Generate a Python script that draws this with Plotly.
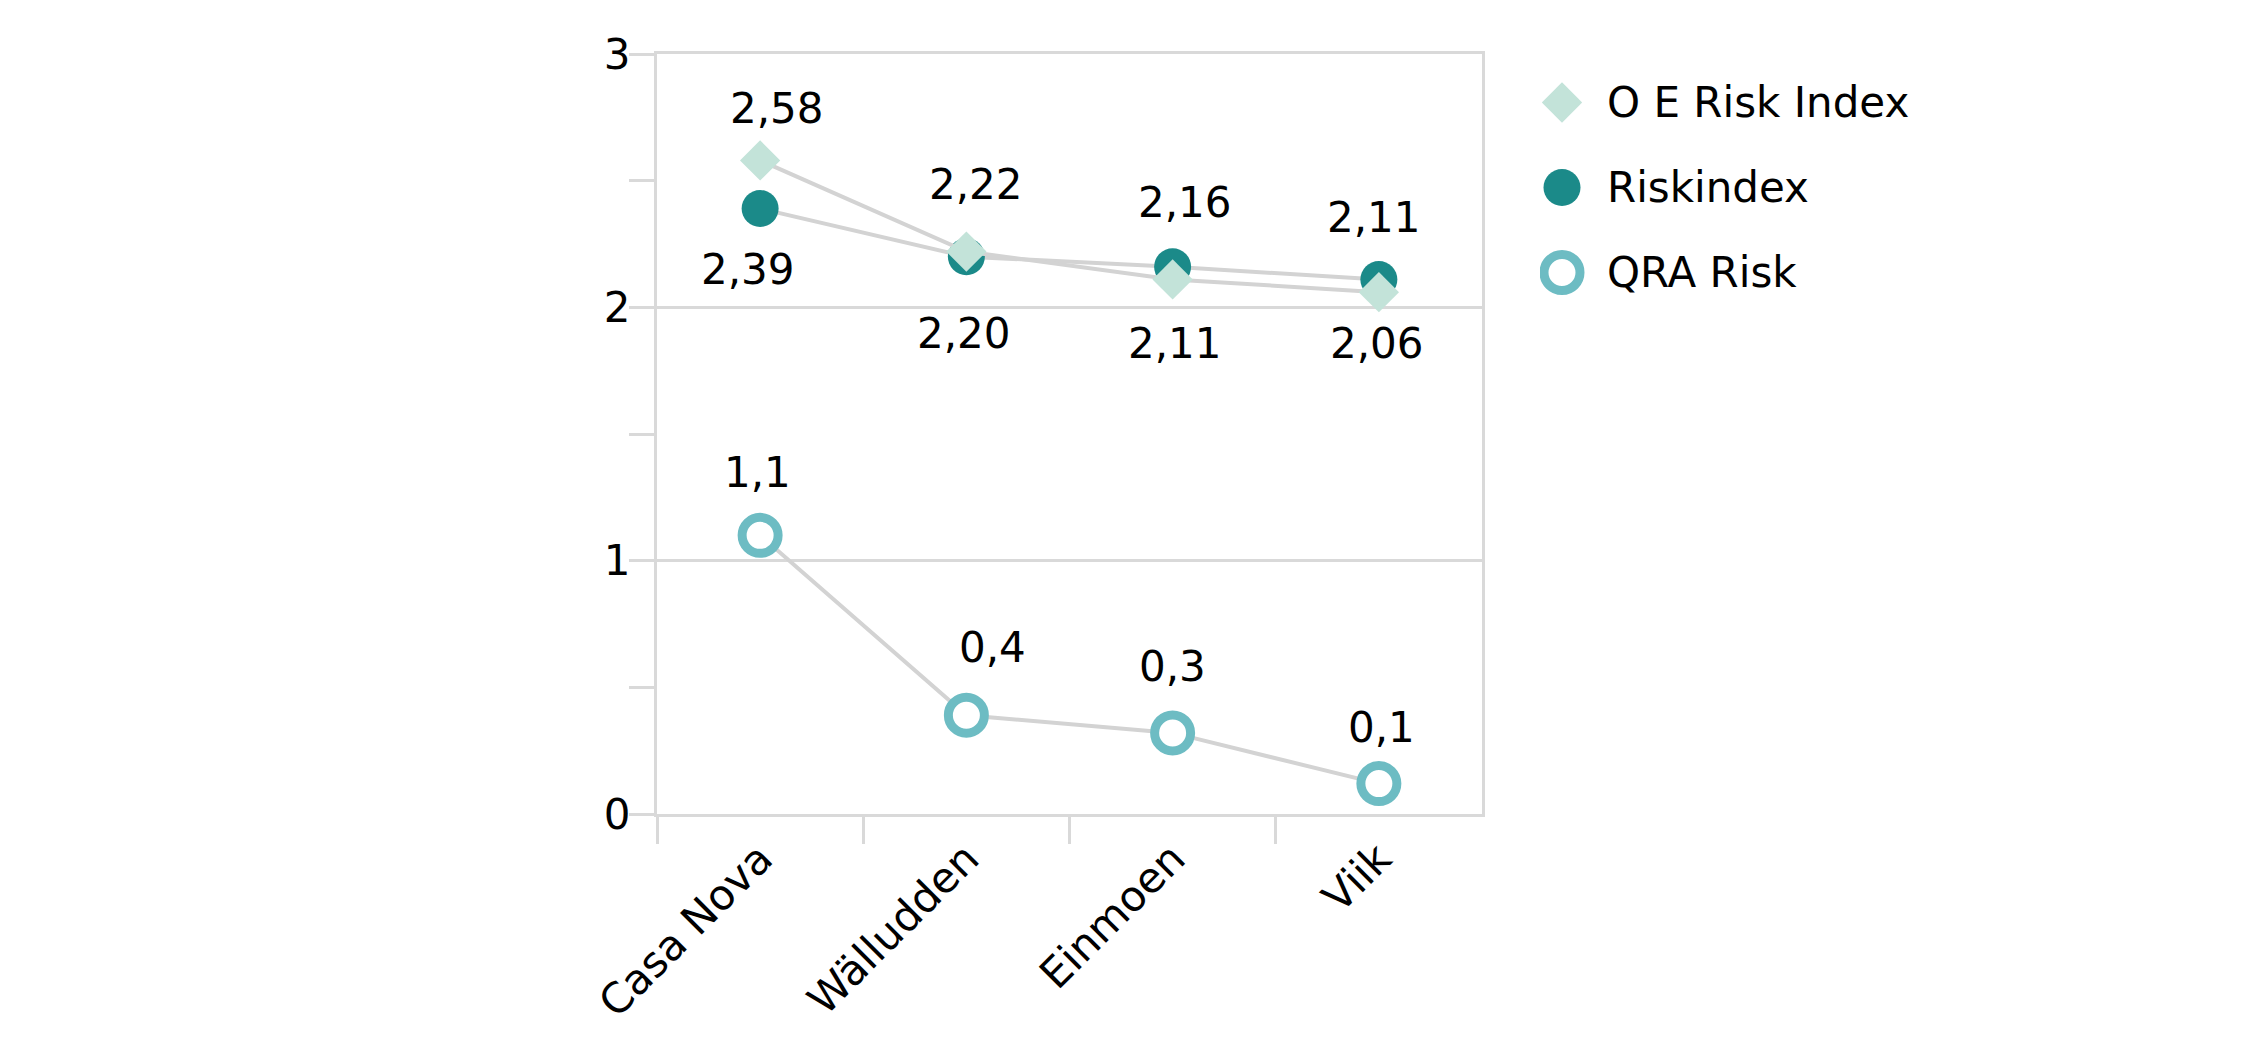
import plotly.graph_objects as go

# ---- data ----
categories = ["Casa Nova", "Wälludden", "Einmoen", "Viik"]
oe_risk_index = [2.58, 2.22, 2.11, 2.06]
riskindex = [2.39, 2.20, 2.16, 2.11]
qra_risk = [1.1, 0.39, 0.32, 0.12]
series_names = ["O E Risk Index", "Riskindex", "QRA Risk"]
y_ticks = [0, 1, 2, 3]

# ---- style ----
FONT = "DejaVu Sans"
FS = 42
C_OE = "#c3e3d9"
C_RI = "#1b8a89"
C_QRA = "#6dbcc3"
C_LINE = "#d3d3d3"
C_GRID = "#d9d9d9"

# label offsets (xshift, yshift) in px per point
oe_off = [(17, 52), (10, 67), (2, -64), (-2, -51)]
ri_off = [(-12, -61), (-2, -77), (12, 64), (-5, 62)]
qra_off = [(-3, 63), (26, 68), (0, 66), (3, 56)]

W, H = 2238, 1041
px0, px1 = 649, 1474   # plot area x (figure px)
py0, py1 = 46, 806     # plot area y (figure px, top/bottom)

fig = go.Figure()

marker_styles = {
    "O E Risk Index": dict(symbol="diamond", size=31, color=C_OE, line=dict(width=0)),
    "Riskindex": dict(symbol="circle", size=37, color=C_RI, line=dict(width=0)),
    "QRA Risk": dict(symbol="circle", size=36, color="white", line=dict(width=9, color=C_QRA)),
}

for name, vals in [("Riskindex", riskindex), ("O E Risk Index", oe_risk_index), ("QRA Risk", qra_risk)]:
    fig.add_trace(go.Scatter(
        x=categories, y=vals, name=name, mode="lines+markers",
        line=dict(color=C_LINE, width=4),
        marker=marker_styles[name],
        showlegend=False, cliponaxis=False,
        xaxis="x", yaxis="y",
    ))

def fmt(v, d):
    return f"{v:.{d}f}".replace(".", ",")

annotations = []
for vals, offs, d in [(oe_risk_index, oe_off, 2), (riskindex, ri_off, 2), (qra_risk, qra_off, 1)]:
    for c, v, (dx, dy) in zip(categories, vals, offs):
        annotations.append(dict(
            x=c, y=v, xref="x", yref="y", text=fmt(v, d), showarrow=False,
            xanchor="center", yanchor="middle", xshift=dx, yshift=dy,
            font=dict(family=FONT, size=FS, color="black"),
        ))

# custom legend on an auxiliary axis
for i, name in enumerate(series_names):
    fig.add_trace(go.Scatter(
        x=[22], y=[i], mode="markers", marker=marker_styles[name],
        showlegend=False, xaxis="x2", yaxis="y2", hoverinfo="skip",
    ))
    annotations.append(dict(
        x=65, y=i, xref="x2", yref="y2", text=name, showarrow=False,
        xanchor="left", yanchor="middle",
        font=dict(family=FONT, size=FS, color="black"),
    ))

fig.update_layout(
    width=W, height=H,
    margin=dict(l=0, r=0, t=0, b=0),
    paper_bgcolor="white", plot_bgcolor="white",
    font=dict(family=FONT, size=FS, color="black"),
    separators=", ",
    showlegend=False,
    annotations=annotations,
    xaxis=dict(
        domain=[px0 / W, px1 / W], type="category", categoryorder="array",
        categoryarray=categories, range=[-0.5, 3.5],
        tickson="boundaries", ticks="outside", ticklen=27, tickwidth=3, tickcolor=C_GRID,
        showline=True, linecolor=C_GRID, linewidth=3, mirror=True,
        showgrid=False, zeroline=False, tickangle=-45,
        tickfont=dict(family=FONT, size=FS, color="black"), automargin=False,
    ),
    yaxis=dict(
        domain=[(H - py1) / H, (H - py0) / H], range=[0, 3],
        tickvals=y_ticks, ticks="outside", ticklen=25, tickwidth=3, tickcolor=C_GRID,
        showgrid=True, gridcolor=C_GRID, gridwidth=3,
        showline=True, linecolor=C_GRID, linewidth=3, mirror=True, zeroline=False,
        minor=dict(dtick=0.5, ticks="outside", ticklen=25, tickwidth=3, tickcolor=C_GRID, showgrid=False),
        tickfont=dict(family=FONT, size=FS, color="black"), automargin=False,
        ticklabelstandoff=-10,
    ),
    xaxis2=dict(domain=[1532 / W, 1982 / W], range=[0, 450], visible=False, fixedrange=True),
    yaxis2=dict(domain=[(H - 307) / H, (H - 52) / H], range=[2.5, -0.5], visible=False, fixedrange=True, anchor="x2"),
)
fig.update_layout(xaxis2_anchor="y2")

fig.write_html("out.html")
